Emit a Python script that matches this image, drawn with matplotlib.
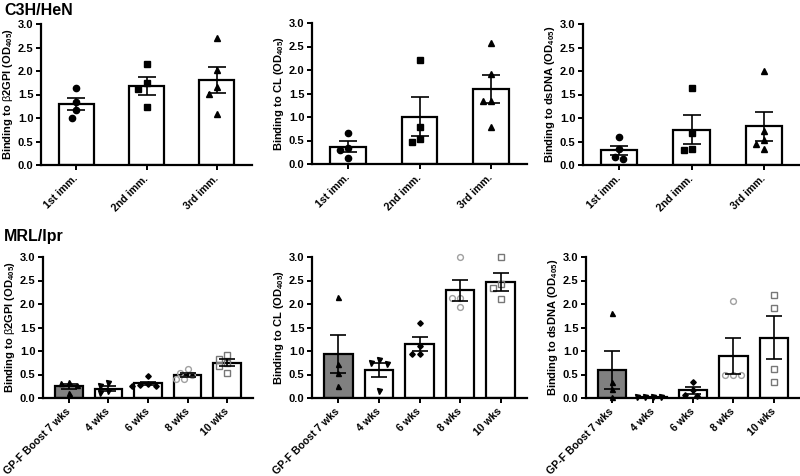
import numpy as np
import matplotlib
matplotlib.use("Agg")
import matplotlib.pyplot as plt

plt.rcParams['font.family'] = ['Liberation Sans', 'DejaVu Sans']
plt.rcParams['mathtext.fontset'] = 'custom'
plt.rcParams['mathtext.rm'] = 'Liberation Sans'
plt.rcParams['mathtext.bf'] = 'Liberation Sans:bold'
plt.rcParams['mathtext.it'] = 'Liberation Sans:italic'

# ---------------- data ----------------
top_categories = ['1st imm.', '2nd imm.', '3rd imm.']
top_b2gpi_points = [[1.63, 1.35, 1.17, 1.01], [2.15, 1.74, 1.61, 1.23], [2.71, 2.02, 1.65, 1.52, 1.09]]
top_b2gpi_mean = [1.29, 1.68, 1.81]
top_b2gpi_sem = [0.13, 0.19, 0.27]

top_cl_points = [[0.65, 0.35, 0.29, 0.12], [2.21, 0.78, 0.53, 0.46], [2.57, 1.92, 1.33, 1.33, 0.79]]
top_cl_mean = [0.37, 1.01, 1.60]
top_cl_sem = [0.11, 0.41, 0.30]

top_dsdna_points = [[0.60, 0.33, 0.18, 0.13], [1.64, 0.69, 0.35, 0.31], [2.01, 0.72, 0.53, 0.44, 0.34]]
top_dsdna_mean = [0.31, 0.75, 0.82]
top_dsdna_sem = [0.10, 0.31, 0.30]

bot_categories = ['GP-F Boost 7 wks', '4 wks', '6 wks', '8 wks', '10 wks']
bot_b2gpi_points = [[0.34, 0.31, 0.27, 0.11], [0.32, 0.26, 0.155, 0.10], [0.46, 0.30, 0.27, 0.26, 0.25],
                    [0.61, 0.53, 0.50, 0.41, 0.41], [0.92, 0.83, 0.75, 0.68, 0.54]]
bot_b2gpi_mean = [0.25, 0.20, 0.31, 0.49, 0.75]
bot_b2gpi_sem = [0.05, 0.05, 0.04, 0.04, 0.07]

bot_cl_points = [[2.14, 0.73, 0.53, 0.26], [0.81, 0.74, 0.73, 0.14], [1.60, 1.10, 0.93, 0.93],
                 [3.0, 2.12, 2.12, 1.93], [3.0, 2.43, 2.35, 2.10]]
bot_cl_mean = [0.94, 0.60, 1.14, 2.29, 2.47]
bot_cl_sem = [0.41, 0.15, 0.15, 0.23, 0.19]

bot_dsdna_points = [[1.81, 0.33, 0.19, 0.03], [0.03, 0.02, 0.02, 0.03], [0.35, 0.16, 0.06, 0.05],
                    [2.06, 0.48, 0.48, 0.48], [2.20, 1.91, 0.62, 0.33]]
bot_dsdna_mean = [0.60, 0.025, 0.16, 0.89, 1.28]
bot_dsdna_sem = [0.41, 0.005, 0.07, 0.38, 0.46]

# ---------------- styles ----------------
top_markers = [dict(marker='o', ms=4.5, mfc='black', mec='black'),
               dict(marker='s', ms=4.2, mfc='black', mec='black'),
               dict(marker='^', ms=4.5, mfc='black', mec='black')]
bot_markers = [dict(marker='^', ms=3.6, mfc='black', mec='black'),
               dict(marker='v', ms=3.6, mfc='black', mec='black'),
               dict(marker='D', ms=2.8, mfc='black', mec='black'),
               dict(marker='o', ms=4.2, mfc='none', mec='#a0a0a0', mew=1.0),
               dict(marker='s', ms=4.0, mfc='none', mec='#777777', mew=1.0)]
top_fill = ['white'] * 3
bot_fill = ['#808080', 'white', 'white', 'white', 'white']

fig = plt.figure(figsize=(8.0, 4.76), dpi=100)

W, H = 800, 476


def axrect(l, r, b, t):
    return [l / W, 1 - b / H, (r - l) / W, (b - t) / H]


def swarm(ax, xc, vals, thr_px, step_px):
    bbox = ax.get_window_extent()
    x0, x1 = ax.get_xlim()
    y0, y1 = ax.get_ylim()
    pxx = bbox.width / (x1 - x0)
    pxy = bbox.height / (y1 - y0)
    placed = []
    xs = []
    for v in vals:
        py = v * pxy
        cands = [0]
        for i in range(1, 12):
            cands += [-i * step_px, i * step_px]
        for off in cands:
            ok = all(np.hypot(off - ox, py - oy) >= thr_px for ox, oy in placed)
            if ok:
                break
        placed.append((off, py))
        xs.append(xc + off / pxx)
    return xs


def panel(rect, cats, points, means, sems, markers, fills, width, xlim, ylabel, capsize, rot, thr, step):
    ax = fig.add_axes(rect)
    x = np.arange(len(cats))
    ax.set_xlim(*xlim)
    ax.set_ylim(0, 3.0)
    ax.bar(x, means, width=width, color=fills, edgecolor='black', linewidth=1.6, zorder=2)
    for i, (pts, mk) in enumerate(zip(points, markers)):
        xs = swarm(ax, x[i], pts, thr, step)
        ax.plot(xs, pts, linestyle='none', zorder=3, clip_on=False, **mk)
    ax.errorbar(x, means, yerr=sems, fmt='none', ecolor='black', elinewidth=1.2,
                capsize=capsize, capthick=1.2, zorder=4)
    for s in ['top', 'right']:
        ax.spines[s].set_visible(False)
    for s in ['left', 'bottom']:
        ax.spines[s].set_linewidth(1.6)
    ax.set_yticks([0, 0.5, 1.0, 1.5, 2.0, 2.5, 3.0])
    ax.set_yticklabels(['0.0', '0.5', '1.0', '1.5', '2.0', '2.5', '3.0'])
    ax.set_xticks(x)
    ax.set_xticklabels(cats, rotation=rot, ha='right', va='center', rotation_mode='anchor')
    ax.tick_params(axis='both', width=1.4, length=3.5, labelsize=8, pad=2)
    ax.tick_params(axis='x', labelsize=7.6, pad=5)
    for lab in ax.get_xticklabels() + ax.get_yticklabels():
        lab.set_fontweight('bold')
    ax.set_ylabel(ylabel, fontsize=8, fontweight='bold', labelpad=2)
    return ax


lab_b2 = r'Binding to $\mathrm{\beta}$2GPI (OD$_{\mathbf{405}}$)'
lab_cl = r'Binding to CL (OD$_{\mathbf{405}}$)'
lab_ds = r'Binding to dsDNA (OD$_{\mathbf{405}}$)'

top_xlim = (-0.5, 2.5)
bot_xlim = (-0.65, 4.65)

panel(axrect(41, 252, 165, 24), top_categories, top_b2gpi_points, top_b2gpi_mean, top_b2gpi_sem,
      top_markers, top_fill, 0.5, top_xlim, lab_b2, 6.5, 45, 8, 4)
panel(axrect(312, 527, 164, 23), top_categories, top_cl_points, top_cl_mean, top_cl_sem,
      top_markers, top_fill, 0.5, top_xlim, lab_cl, 6.5, 45, 8, 4)
panel(axrect(583, 800, 165, 24), top_categories, top_dsdna_points, top_dsdna_mean, top_dsdna_sem,
      top_markers, top_fill, 0.5, top_xlim, lab_ds, 6.5, 45, 8, 4)

panel(axrect(43, 253, 398, 257), bot_categories, bot_b2gpi_points, bot_b2gpi_mean, bot_b2gpi_sem,
      bot_markers, bot_fill, 0.7, bot_xlim, lab_b2, 5.5, 45, 6.5, 4)
panel(axrect(312, 527, 398, 257), bot_categories, bot_cl_points, bot_cl_mean, bot_cl_sem,
      bot_markers, bot_fill, 0.7, bot_xlim, lab_cl, 5.5, 45, 6.5, 4)
panel(axrect(586, 800, 398, 257), bot_categories, bot_dsdna_points, bot_dsdna_mean, bot_dsdna_sem,
      bot_markers, bot_fill, 0.7, bot_xlim, lab_ds, 5.5, 45, 6.5, 4)

fig.text(4 / W, 1 - 3 / H, 'C3H/HeN', fontsize=11.5, fontweight='bold', ha='left', va='top')
fig.text(4 / W, 1 - 229 / H, 'MRL/lpr', fontsize=11.5, fontweight='bold', ha='left', va='top')

fig.savefig('out.png', dpi=100)
